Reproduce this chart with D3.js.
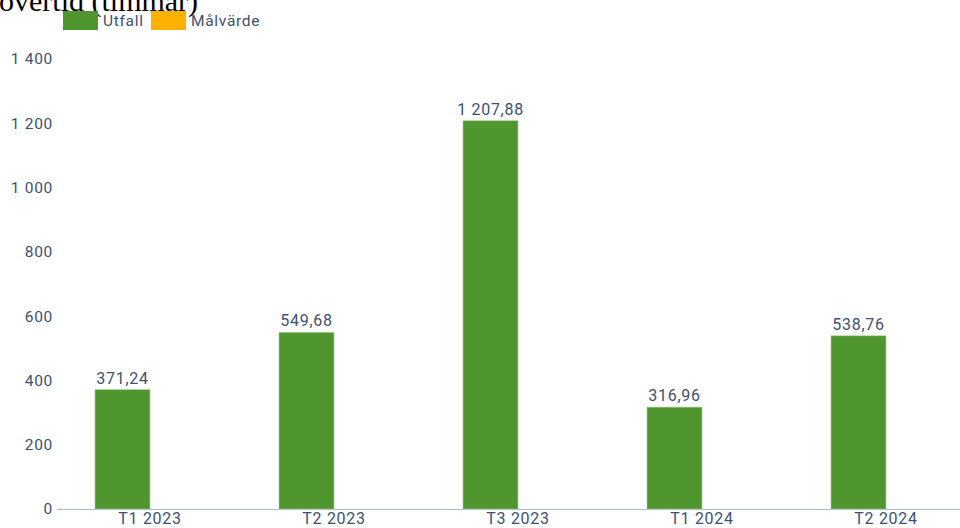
<!DOCTYPE html>
<html>
<head>
<meta charset="utf-8">
<script src="https://cdn.jsdelivr.net/npm/d3@7"></script>
<style>
  html, body { margin: 0; padding: 0; background: #fff; overflow: hidden; }
  svg { display: block; font-family: Roboto, sans-serif; }
  .lbl { letter-spacing: 0.7px; }
</style>
</head>
<body>
<div id="chart"></div>
<script>
const periods = ["T1 2023", "T2 2023", "T3 2023", "T1 2024", "T2 2024"];
const series = ["Utfall", "Målvärde"];
const utfall = [371.24, 549.68, 1207.88, 316.96, 538.76];
const malvarde = [null, null, null, null, null];
const yTicks = [0, 200, 400, 600, 800, 1000, 1200, 1400];
const colors = { "Utfall": "#4f962f", "Målvärde": "#ffb000" };

const width = 960, height = 528;
const margins = { top: 59, right: 0, bottom: 19, left: 58 };
const textColor = "#3e5170";

const sv = d3.formatLocale({ decimal: ",", thousands: "\u00a0", grouping: [3], currency: ["", " kr"] });
const fmtTick = sv.format(",d");
const fmtValue = sv.format(",.2f");

const data = periods.map((p, i) => ({ period: p, values: [
  { key: "Utfall", value: utfall[i] },
  { key: "Målvärde", value: malvarde[i] }
]}));

const svg = d3.select("#chart")
  .append("svg")
  .attr("width", width)
  .attr("height", height);

// title, partly cut at the top like the reference
svg.append("text")
  .attr("x", -1)
  .attr("y", 11)
  .attr("font-family", "'Liberation Serif', 'DejaVu Serif', serif")
  .attr("font-size", 30)
  .attr("fill", "#000")
  .text("övertid (timmar)");

// legend
const legend = svg.append("g").attr("transform", "translate(63, 11)");
let lx = 0;
series.forEach(s => {
  legend.append("rect")
    .attr("x", lx).attr("y", 0)
    .attr("width", 35).attr("height", 19)
    .attr("fill", colors[s]);
  legend.append("text")
    .attr("class", "lbl")
    .attr("x", lx + 40).attr("y", 15)
    .attr("font-size", 15.5)
    .attr("fill", textColor)
    .text(s);
  lx += 88;
});

const x0 = d3.scaleBand()
  .domain(periods)
  .range([margins.left, margins.left + 184 * periods.length])
  .paddingInner(0)
  .paddingOuter(0);

const x1 = d3.scaleBand()
  .domain(series)
  .range([0, x0.bandwidth()])
  .paddingInner(0)
  .paddingOuter(37 / 55);

const y = d3.scaleLinear()
  .domain([0, 1400])
  .range([height - margins.bottom, margins.top]);

// y tick labels
svg.append("g")
  .selectAll("text")
  .data(yTicks)
  .join("text")
  .attr("class", "lbl")
  .attr("x", 53)
  .attr("y", d => y(d))
  .attr("dy", "0.35em")
  .attr("text-anchor", "end")
  .attr("font-size", 15.5)
  .attr("fill", textColor)
  .text(d => fmtTick(d));

// bars
const groups = svg.append("g")
  .selectAll("g")
  .data(data)
  .join("g")
  .attr("transform", d => `translate(${x0(d.period)},0)`);

groups.selectAll("rect")
  .data(d => d.values.filter(v => v.value != null))
  .join("rect")
  .attr("x", d => x1(d.key))
  .attr("y", d => y(d.value))
  .attr("width", x1.bandwidth())
  .attr("height", d => y(0) - y(d.value))
  .attr("fill", d => colors[d.key])
  .attr("stroke", "#a9cf98")
  .attr("stroke-width", 0.6);

groups.selectAll("text")
  .data(d => d.values.filter(v => v.value != null))
  .join("text")
  .attr("class", "lbl")
  .attr("x", d => x1(d.key) + x1.bandwidth() / 2)
  .attr("y", d => y(d.value) - 6)
  .attr("text-anchor", "middle")
  .attr("font-size", 16)
  .attr("fill", textColor)
  .text(d => fmtValue(d.value));

// x axis
const xAxis = svg.append("g")
  .attr("transform", `translate(0, ${height - margins.bottom})`)
  .call(d3.axisBottom(x0).tickSize(0).tickPadding(4));

xAxis.select(".domain")
  .attr("d", `M${margins.left - 1},0.5H${width}`)
  .attr("stroke", "#b3becb")
  .attr("stroke-width", 1.2);

xAxis.selectAll("text")
  .attr("class", "lbl")
  .attr("font-family", "Roboto, sans-serif")
  .attr("font-size", 16)
  .attr("fill", textColor);
</script>
</body>
</html>
